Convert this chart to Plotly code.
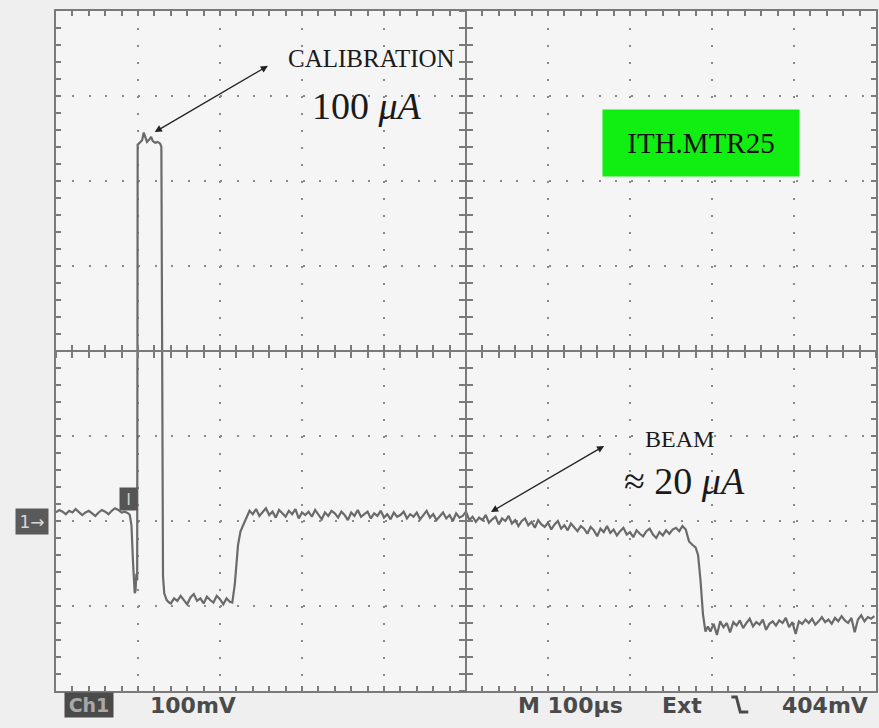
import plotly.graph_objects as go

# ---------------- data (time in µs, signal in mV; 100 µs/div, 100 mV/div) ----------------
PRE_T = [0, 4, 8, 12, 16, 20, 24, 28, 32, 36, 40, 44, 48, 52, 56, 60, 64, 68, 72, 76, 80, 84, 88]
PRE_V = [-190, -187, -189, -192, -188, -190, -186, -189, -193, -190, -188, -191, -194, -190,
         -187, -189, -192, -188, -185, -187, -190, -189, -191]

DIP_T = [90, 92, 94, 95, 96, 97, 98, 99]
DIP_V = [-193, -205, -250, -278, -285, -282, -262, -270]

CAL_T = [99.6, 101, 103, 105, 107, 109, 111, 114, 116, 118, 121, 124, 127, 128.5]
CAL_V = [243, 244, 246, 248, 257, 250, 246, 249, 252, 247, 245, 246, 244, 240]

FALL_T = [129.5, 130.5, 132, 135, 138]
FALL_V = [-150, -265, -285, -293, -296]

LOW_T = [140, 144, 148, 152, 156, 160, 164, 168, 172, 176, 180, 184, 188, 192, 196, 200, 204, 208, 212]
LOW_V = [-297, -291, -294, -288, -293, -298, -290, -286, -294, -291, -297, -289, -293, -296,
         -288, -292, -298, -291, -295]

RISE_T = [215, 218, 220, 222, 225, 229, 232]
RISE_V = [-296, -275, -250, -228, -212, -203, -195]

BEAM_T = list(range(236, 768, 4))
BEAM_V = [-188, -192, -186, -194, -190, -185, -193, -189, -196, -187,
          -191, -195, -188, -192, -186, -197, -190, -193, -189, -195,
          -187, -192, -198, -190, -194, -188, -191, -196, -189, -193,
          -199, -190, -194, -187, -195, -192, -189, -197, -191, -194,
          -188, -196, -192, -198, -190, -195, -193, -189, -197, -192,
          -195, -190, -198, -193, -188, -196, -192, -199, -194, -190,
          -197, -193, -200, -191, -196, -194, -189, -199, -195, -201,
          -196, -199, -193, -202, -198, -195, -204, -197, -200, -194,
          -203, -199, -206, -200, -197, -205, -201, -208, -199, -204,
          -207, -202, -210, -204, -200, -209, -205, -211, -203, -208,
          -212, -206, -209, -215, -207, -211, -218, -209, -213, -206,
          -214, -210, -217, -212, -208, -216, -213, -219, -211, -215,
          -218, -212, -209, -216, -220, -213, -217, -211, -215, -210,
          -208, -212, -206]

EDGE_T = [768, 772, 776, 780, 783, 786, 789, 792, 795]
EDGE_V = [-210, -224, -228, -231, -240, -270, -310, -330, -324]

END_T = list(range(798, 1000, 4))
END_V = [-330, -321, -334, -318, -325, -320, -331, -319, -323, -317,
         -326, -320, -315, -324, -319, -322, -316, -328, -321, -318,
         -323, -317, -320, -314, -325, -319, -333, -318, -321, -316,
         -320, -315, -322, -318, -313, -319, -316, -321, -314, -318,
         -312, -317, -320, -314, -331, -316, -311, -318, -313, -315,
         -312]

TIME = PRE_T + DIP_T + CAL_T + FALL_T + LOW_T + RISE_T + BEAM_T + EDGE_T + END_T
SIGNAL = PRE_V + DIP_V + CAL_V + FALL_V + LOW_V + RISE_V + BEAM_V + EDGE_V + END_V

X_RANGE = [0, 1000]
Y_RANGE = [-400, 400]
DIV_X = 100
DIV_Y = 100

READOUT_LEFT = ["Ch1", "100mV"]
READOUT_RIGHT = ["M 100\u00b5s", "Ext", "404mV"]

# ---------------- styling ----------------
GRID = "#8a8a8a"
LINE = "#7a7a7a"
TRACE = "#6a6a6a"
SERIF = "Liberation Serif, Times New Roman, serif"
SCOPE = "DejaVu Sans, sans-serif"
RO_COL = "#4a4a4a"

fig = go.Figure()
fig.add_trace(go.Scatter(x=TIME, y=SIGNAL, mode="lines",
                         line=dict(color=TRACE, width=2.2),
                         hoverinfo="skip", showlegend=False))
# empty traces so the centre-cross axes get drawn
fig.add_trace(go.Scatter(x=[], y=[], xaxis="x2", yaxis="y2", showlegend=False))
fig.add_trace(go.Scatter(x=[], y=[], xaxis="x3", yaxis="y3", showlegend=False))

border = dict(showline=True, linecolor=LINE, linewidth=2, mirror="ticks",
              ticks="inside", ticklen=5, tickwidth=1.5, tickcolor=LINE,
              showticklabels=False, zeroline=False, fixedrange=True)

fig.update_layout(
    width=879, height=728,
    margin=dict(l=56, r=1, t=11, b=37),
    paper_bgcolor="#efefef",
    plot_bgcolor="#f5f5f5",
    showlegend=False,
    xaxis=dict(range=X_RANGE, tick0=0, dtick=DIV_X / 5,
               showgrid=False, **border),
    yaxis=dict(range=Y_RANGE, tick0=0, dtick=DIV_Y / 5,
               showgrid=False, **border),
    xaxis2=dict(range=X_RANGE, overlaying="x", anchor="free", position=0.5,
                tick0=0, dtick=DIV_X, showgrid=True, gridcolor=GRID, gridwidth=2,
                griddash="2px,15px", showline=True, linecolor=LINE, linewidth=2,
                ticks="outside", ticklen=6, tickwidth=1.5, tickcolor=LINE,
                minor=dict(dtick=DIV_X / 5, tick0=0, ticks="outside", ticklen=6,
                           tickwidth=1.5, tickcolor=LINE),
                showticklabels=False, zeroline=False, fixedrange=True),
    yaxis2=dict(range=Y_RANGE, overlaying="y", anchor="free", position=0.5,
                tick0=0, dtick=DIV_Y, showgrid=True, gridcolor=GRID, gridwidth=2,
                griddash="2px,14.44px", showline=True, linecolor=LINE, linewidth=2,
                ticks="outside", ticklen=6, tickwidth=1.5, tickcolor=LINE,
                minor=dict(dtick=DIV_Y / 5, tick0=0, ticks="outside", ticklen=6,
                           tickwidth=1.5, tickcolor=LINE),
                showticklabels=False, zeroline=False, fixedrange=True),
    xaxis3=dict(range=X_RANGE, overlaying="x", anchor="free", position=0.5,
                tick0=0, dtick=DIV_X / 5, showgrid=False, showline=False,
                ticks="inside", ticklen=6, tickwidth=1.5, tickcolor=LINE,
                showticklabels=False, zeroline=False, fixedrange=True),
    yaxis3=dict(range=Y_RANGE, overlaying="y", anchor="free", position=0.5,
                tick0=0, dtick=DIV_Y / 5, showgrid=False, showline=False,
                ticks="inside", ticklen=6, tickwidth=1.5, tickcolor=LINE,
                showticklabels=False, zeroline=False, fixedrange=True),
)

ann = []
# double-headed arrows
ann.append(dict(x=120.4, y=257.6, ax=260.3, ay=336.5, xref="x", yref="y", axref="x", ayref="y",
                text="", showarrow=True, arrowhead=2, startarrowhead=2, arrowside="end+start",
                arrowsize=1.1, startarrowsize=1.1, arrowwidth=1.3, arrowcolor="#222222"))
ann.append(dict(x=530.4, y=-189.4, ax=670.3, ay=-110.6, xref="x", yref="y", axref="x", ayref="y",
                text="", showarrow=True, arrowhead=2, startarrowhead=2, arrowside="end+start",
                arrowsize=1.1, startarrowsize=1.1, arrowwidth=1.3, arrowcolor="#222222"))
# labels
ann.append(dict(x=384.4, y=344.7, xref="x", yref="y", text="CALIBRATION", showarrow=False,
                font=dict(family=SERIF, size=25, color="#1a1a1a")))
ann.append(dict(x=379.6, y=288.2, xref="x", yref="y", text="100 <i>\u03bcA</i>", showarrow=False,
                font=dict(family=SERIF, size=38, color="#1a1a1a")))
ann.append(dict(x=760.3, y=-103.5, xref="x", yref="y", text="BEAM", showarrow=False,
                font=dict(family=SERIF, size=24, color="#1a1a1a")))
ann.append(dict(x=766.4, y=-152.9, xref="x", yref="y", text="\u2248 20 <i>\u03bcA</i>", showarrow=False,
                font=dict(family=SERIF, size=38, color="#1a1a1a")))
ann.append(dict(x=786.5, y=244.7, xref="x", yref="y", text="ITH.MTR25", showarrow=False,
                width=196, height=66, borderpad=0, bgcolor="#11ee11",
                font=dict(family=SERIF, size=29, color="#111111")))
# trigger position marker
ann.append(dict(x=88.2, y=-174, xref="x", yref="y", text="I", showarrow=False,
                width=17, height=22, borderpad=0, bgcolor="#555555",
                font=dict(family=SCOPE, size=16, color="#cfcfcf")))
# channel ground marker (left of screen)
ann.append(dict(x=-0.029, y=-201, xref="paper", yref="y", xanchor="center", yanchor="middle",
                text="1\u2192", showarrow=False,
                width=32, height=25, borderpad=0, bgcolor="#5a5a5a",
                font=dict(family=SCOPE, size=17, color="#d8d8d8")))
# scope readouts
ybot = -0.0206
ann.append(dict(x=0.040, y=ybot, xref="paper", yref="paper", xanchor="center", yanchor="middle",
                text=READOUT_LEFT[0], showarrow=False,
                width=48, height=24, borderpad=0, bgcolor="#4a4a4a",
                font=dict(family=SCOPE, size=19, color="#a8a8a8", weight="bold")))
ann.append(dict(x=0.112, y=ybot, xref="paper", yref="paper", xanchor="left", yanchor="middle",
                text=READOUT_LEFT[1], showarrow=False,
                font=dict(family=SCOPE, size=22, color=RO_COL, weight="bold")))
ann.append(dict(x=0.561, y=ybot, xref="paper", yref="paper", xanchor="left", yanchor="middle",
                text=READOUT_RIGHT[0], showarrow=False,
                font=dict(family=SCOPE, size=22, color=RO_COL, weight="bold")))
ann.append(dict(x=0.737, y=ybot, xref="paper", yref="paper", xanchor="left", yanchor="middle",
                text=READOUT_RIGHT[1], showarrow=False,
                font=dict(family=SCOPE, size=22, color=RO_COL, weight="bold")))
ann.append(dict(x=0.9927, y=ybot, xref="paper", yref="paper", xanchor="right", yanchor="middle",
                text=READOUT_RIGHT[2], showarrow=False,
                font=dict(family=SCOPE, size=22, color=RO_COL, weight="bold")))

# falling-edge trigger slope glyph
shapes = [dict(type="path", xref="paper", yref="paper",
               path="M 0.8236,-0.0088 L 0.8297,-0.0088 L 0.8345,-0.0309 L 0.8443,-0.0309",
               line=dict(color=RO_COL, width=3))]

fig.update_layout(annotations=ann, shapes=shapes)
fig.write_html("out.html", config={"displayModeBar": False},
               post_script="document.body.style.margin='0';document.body.style.overflow='hidden';")
